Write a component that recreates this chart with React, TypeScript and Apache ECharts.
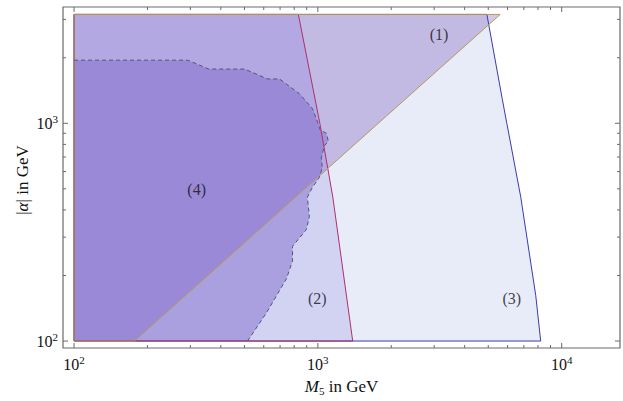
import React, { useEffect, useRef } from "react";
import * as echarts from "echarts";

// Axis ranges (GeV)
const X_MIN = 90.1;
const X_MAX = 17350;
const Y_MIN = 92.9;
const Y_MAX = 3420;

// Tick positions
const xMajorTicks = [100, 1000, 10000];
const xMinorTicks = [200, 300, 400, 500, 600, 700, 800, 900, 2000, 3000, 4000, 5000, 6000, 7000, 8000, 9000];
const yMajorTicks = [100, 1000];
const yMinorTicks = [200, 300, 400, 500, 600, 700, 800, 900, 2000, 3000];

// Region (1): gold bounded
const r1M = [100, 100, 5597, 177];
const r1A = [100, 3162, 3162, 100];

// Region (2): red bounded
const r2M = [100, 100, 832, 1019, 1152, 1390];
const r2A = [100, 3162, 3162, 1000, 458, 100];

// Region (3): blue bounded
const r3M = [100, 100, 4935, 5703, 5957, 6797, 7831, 8204];
const r3A = [100, 3162, 3162, 1298, 1000, 458, 161.5, 100];

// Region (4): dashed boundary
const r4M = [100, 293, 357, 501, 622, 696, 840, 950, 995, 1024, 1083, 1104, 1063, 1033, 1043, 1014, 950, 906, 923, 897, 787, 787, 743, 616, 515];
const r4A = [1949, 1949, 1774, 1774, 1598, 1598, 1367, 1169, 1021, 929, 901, 829, 787, 694, 626, 564, 508, 458, 372, 325, 272, 233, 193, 135, 100];

// Region labels
const labelText = ["(1)", "(2)", "(3)", "(4)"];
const labelM = [3141, 995, 6245, 318.5];
const labelA = [2553, 156.5, 156.5, 497];

const FONT = "'Liberation Serif', 'DejaVu Serif', serif";

function zip(ms: number[], as: number[]) {
  return ms.map((m, i) => [m, as[i]]);
}

function polygonSeries(ms: number[], as: number[], fill: string, z: number) {
  return {
    type: "custom",
    coordinateSystem: "cartesian2d",
    data: zip(ms, as),
    z,
    silent: true,
    renderItem: (params: any, api: any) => {
      if (params.dataIndex !== 0) return null;
      const pts = ms.map((m, i) => api.coord([m, as[i]]));
      return { type: "polygon", shape: { points: pts }, style: { fill, stroke: "none" } };
    },
  };
}

function lineSeries(ms: number[], as: number[], stroke: string, z: number, dash?: number[], closed?: boolean) {
  return {
    type: "custom",
    coordinateSystem: "cartesian2d",
    data: zip(ms, as),
    z,
    silent: true,
    renderItem: (params: any, api: any) => {
      if (params.dataIndex !== 0) return null;
      const pts = ms.map((m, i) => api.coord([m, as[i]]));
      return {
        type: closed ? "polygon" : "polyline",
        shape: { points: pts },
        style: { fill: "none", stroke, lineWidth: 1, lineDash: dash || null },
      };
    },
  };
}

export default function App() {
  const ref = useRef<HTMLDivElement>(null);
  useEffect(() => {
    if (!ref.current) return;
    const chart = echarts.init(ref.current, undefined, { renderer: "svg" });

    const tickData: any[] = [];
    xMajorTicks.forEach((v) => tickData.push([v, 1000, 0, 1]));
    xMinorTicks.forEach((v) => tickData.push([v, 1000, 0, 0]));
    yMajorTicks.forEach((v) => tickData.push([1000, v, 1, 1]));
    yMinorTicks.forEach((v) => tickData.push([1000, v, 1, 0]));

    const labelFmt = (v: number) => {
      const e = Math.log10(v);
      if (Math.abs(e - Math.round(e)) < 1e-6) return "10{sup|" + Math.round(e) + "}";
      return "";
    };
    const richLabel = {
      sup: { fontSize: 11, fontFamily: FONT, color: "#111", padding: [0, 0, 9, 0] },
    };

    chart.setOption({
      animation: false,
      grid: {
        left: 63,
        right: 2,
        top: 7,
        bottom: 48,
        show: true,
        borderColor: "#6a6a6a",
        borderWidth: 1.2,
        backgroundColor: "transparent",
      },
      graphic: [
        {
          type: "text",
          x: 22,
          y: 180,
          rotation: Math.PI / 2,
          z: 20,
          style: {
            text: "|{i|α}| in GeV",
            fontSize: 17,
            fontFamily: FONT,
            fill: "#111",
            align: "center",
            verticalAlign: "middle",
            rich: {
              i: { fontSize: 17, fontStyle: "italic", fontFamily: FONT, fill: "#111" },
            },
          },
        },
      ],
      xAxis: {
        type: "log",
        logBase: 10,
        min: X_MIN,
        max: X_MAX,
        axisLine: { show: false },
        axisTick: { show: false },
        splitLine: { show: false },
        axisLabel: {
          formatter: labelFmt,
          fontSize: 16,
          fontFamily: FONT,
          color: "#111",
          margin: 6,
          hideOverlap: false,
          rich: richLabel,
        },
        name: "{i|M}{sub|5} in GeV",
        nameLocation: "middle",
        nameGap: 29,
        nameTextStyle: {
          fontSize: 17,
          fontFamily: FONT,
          color: "#111",
          rich: {
            i: { fontSize: 17, fontStyle: "italic", fontFamily: FONT, color: "#111" },
            sub: { fontSize: 11, fontFamily: FONT, color: "#111", padding: [8, 0, 0, 0] },
          },
        },
      },
      yAxis: {
        type: "log",
        logBase: 10,
        min: Y_MIN,
        max: Y_MAX,
        axisLine: { show: false },
        axisTick: { show: false },
        splitLine: { show: false },
        axisLabel: {
          formatter: labelFmt,
          fontSize: 16,
          fontFamily: FONT,
          color: "#111",
          margin: 5,
          hideOverlap: false,
          rich: richLabel,
        },
      },
      series: [
        polygonSeries(r3M, r3A, "rgb(232,236,248)", 1),
        polygonSeries(r1M, r1A, "rgba(109,69,181,0.3)", 2),
        polygonSeries(r2M, r2A, "rgba(102,83,213,0.17)", 3),
        polygonSeries(r4M.concat([100]), r4A.concat([100]), "rgba(121,99,202,0.45)", 4),
        lineSeries(r3M, r3A, "#3b3bab", 5, undefined, true),
        lineSeries(r2M, r2A, "#b0306a", 6, undefined, true),
        lineSeries(r1M, r1A, "#b89a52", 7, undefined, true),
        lineSeries(r4M, r4A, "#545478", 8, [4, 3]),
        {
          type: "scatter",
          data: labelText.map((t, i) => ({ name: t, value: [labelM[i], labelA[i]] })),
          symbolSize: 0,
          z: 10,
          silent: true,
          label: {
            show: true,
            position: "inside",
            formatter: (p: any) => p.name,
            fontSize: 16,
            fontFamily: FONT,
            color: "#111",
          },
        },
        {
          type: "custom",
          coordinateSystem: "cartesian2d",
          data: tickData,
          z: 12,
          silent: true,
          clip: false,
          renderItem: (params: any, api: any) => {
            const cs = params.coordSys;
            const isY = api.value(2) === 1;
            const len = api.value(3) === 1 ? 5 : 3;
            const st = { stroke: "#6a6a6a", lineWidth: 1 };
            if (!isY) {
              const px = api.coord([api.value(0), 1000])[0];
              return {
                type: "group",
                children: [
                  { type: "line", shape: { x1: px, y1: cs.y + cs.height, x2: px, y2: cs.y + cs.height - len }, style: st },
                  { type: "line", shape: { x1: px, y1: cs.y, x2: px, y2: cs.y + len }, style: st },
                ],
              };
            }
            const py = api.coord([1000, api.value(1)])[1];
            return {
              type: "group",
              children: [
                { type: "line", shape: { x1: cs.x, y1: py, x2: cs.x + len, y2: py }, style: st },
                { type: "line", shape: { x1: cs.x + cs.width, y1: py, x2: cs.x + cs.width - len, y2: py }, style: st },
              ],
            };
          },
        },
      ],
    });
    return () => chart.dispose();
  }, []);
  return (
    <div
      ref={ref}
      style={{ position: "fixed", left: 0, top: 0, width: 623, height: 401, background: "#fff" }}
    />
  );
}
